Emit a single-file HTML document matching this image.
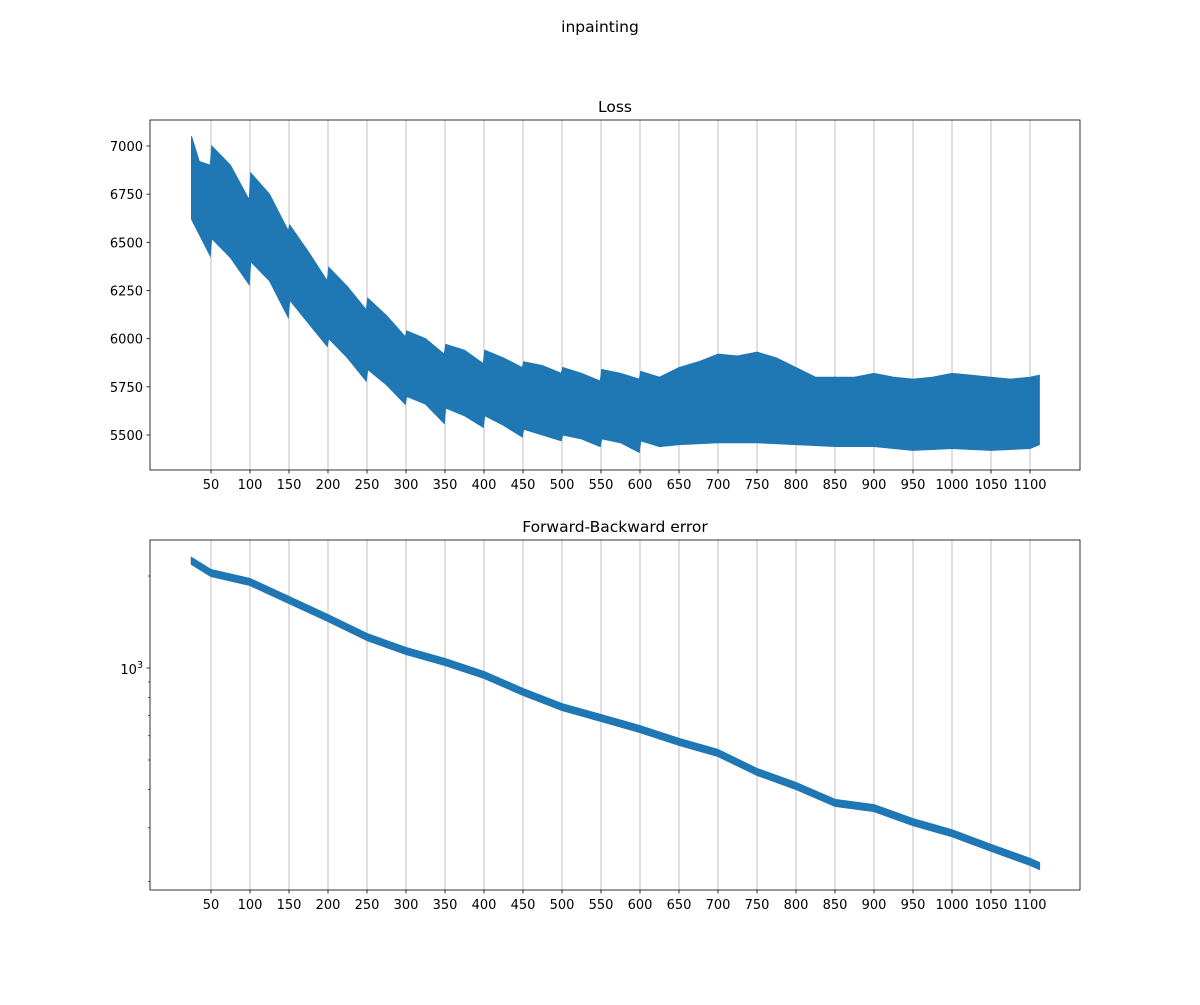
<!DOCTYPE html>
<html><head><meta charset="utf-8"><style>
body{margin:0;background:#fff;font-family:"Liberation Sans","DejaVu Sans",sans-serif}
svg text{font-family:"DejaVu Sans","Liberation Sans",sans-serif}
</style></head><body>
<svg id="fig" width="1200" height="1000" xmlns="http://www.w3.org/2000/svg">
<rect width="1200" height="1000" fill="#fff"/>
<text x="600" y="32" text-anchor="middle" font-size="15.5">inpainting</text>
</svg>
<script>
const xTicks=[50,100,150,200,250,300,350,400,450,500,550,600,650,700,750,800,850,900,950,1000,1050,1100];
const lossX=[25,35,49,51,75,99,101,125,149,151,175,199,201,225,249,251,275,299,301,325,349,351,375,399,401,425,449,451,475,499,501,525,549,551,575,599,601,625,650,675,700,725,750,775,800,825,850,875,900,925,950,975,1000,1025,1050,1075,1100,1112];
const lossUpper=[7050,6920,6900,7000,6900,6720,6860,6750,6560,6590,6450,6300,6370,6270,6150,6210,6120,6010,6040,6000,5920,5970,5940,5870,5940,5900,5850,5880,5860,5820,5850,5820,5780,5840,5820,5790,5830,5800,5850,5880,5920,5910,5930,5900,5850,5800,5800,5800,5820,5800,5790,5800,5820,5810,5800,5790,5800,5810];
const lossLowerX=[25,49,51,75,99,101,125,149,151,175,199,201,225,249,251,275,299,301,325,349,351,375,399,401,425,449,451,475,499,501,525,549,551,575,599,601,625,650,700,750,800,850,900,950,1000,1050,1100,1112];
const lossLower=[6620,6430,6520,6420,6280,6400,6300,6110,6200,6080,5960,6000,5900,5780,5840,5760,5660,5700,5660,5560,5640,5600,5540,5600,5550,5490,5530,5500,5470,5500,5480,5440,5480,5460,5410,5470,5440,5450,5460,5460,5450,5440,5440,5420,5430,5420,5430,5450];
const lossTicks=[5500,5750,6000,6250,6500,6750,7000];
const fbX=[25,50,100,150,200,250,300,350,400,450,500,550,600,650,700,750,800,850,900,950,1000,1050,1100,1112];
const fbCenter=[2240,2046,1911,1669,1457,1263,1137,1046,949,835,745,686,631,573,527,457,411,362,348,313,288,258,232,225];
const fbSpread=1.025;
const minorTicks=[200,300,400,500,600,700,800,900,2000];

const NS='http://www.w3.org/2000/svg';
const svg=document.getElementById('fig');
function el(t,a,p){const e=document.createElementNS(NS,t);for(const k in a)e.setAttribute(k,a[k]);(p||svg).appendChild(e);return e;}
const X0=150,X1=1080;
const xs=v=>211+(v-50)*(1030-211)/1050;

function axesFrame(top,bot,name,title){
  const g=el('g',{});
  
  
  xTicks.forEach(t=>{
    const l=el('line',{x1:xs(t),x2:xs(t),y1:top,y2:bot,stroke:'#b0b0b0','stroke-width':0.8},g);
    
    
    el('line',{x1:xs(t),x2:xs(t),y1:bot,y2:bot+3.5,stroke:'#000','stroke-width':0.8},g);
    const tx=el('text',{x:xs(t),y:bot+19,'text-anchor':'middle','font-size':13},g);
    tx.textContent=t;
    
    
  });
  const tt=el('text',{x:(X0+X1)/2,y:top-8,'text-anchor':'middle','font-size':15.5},g);
  tt.textContent=title;
  
  
  return g;
}
const T0=120,T1=470;
const ly=v=>146+(7000-v)*(435-146)/1500;
const g1=axesFrame(T0,T1,'loss-axes','Loss');
let pts=lossX.map((x,i)=>xs(x)+','+ly(lossUpper[i]));
for(let i=lossLowerX.length-1;i>=0;i--)pts.push(xs(lossLowerX[i])+','+ly(lossLower[i]));
const p1=el('polygon',{points:pts.join(' '),fill:'#1f77b4',stroke:'#1f77b4','stroke-width':1},g1);


lossTicks.forEach(t=>{
  el('line',{x1:X0-3.5,x2:X0,y1:ly(t),y2:ly(t),stroke:'#000','stroke-width':0.8},g1);
  const tx=el('text',{x:X0-7,y:ly(t)+5,'text-anchor':'end','font-size':13},g1);
  tx.textContent=t;
  
  
});
el('rect',{x:X0,y:T0,width:X1-X0,height:T1-T0,fill:'none',stroke:'#000','stroke-width':0.8},g1);

const B0=540,B1=890;
const fy=v=>668-Math.log10(v/1000)*305.6;
const g2=axesFrame(B0,B1,'fb-error-axes','Forward-Backward error');
let p2=fbX.map((x,i)=>xs(x)+','+fy(fbCenter[i]*fbSpread));
for(let i=fbX.length-1;i>=0;i--)p2.push(xs(fbX[i])+','+fy(fbCenter[i]/fbSpread));
const pp=el('polygon',{points:p2.join(' '),fill:'#1f77b4',stroke:'#1f77b4','stroke-width':1.5},g2);


minorTicks.forEach(t=>el('line',{x1:X0-2,x2:X0,y1:fy(t),y2:fy(t),stroke:'#000','stroke-width':0.6},g2));
el('line',{x1:X0-3.5,x2:X0,y1:fy(1000),y2:fy(1000),stroke:'#000','stroke-width':0.8},g2);
const lt=el('text',{x:X0-7,y:fy(1000)+6,'text-anchor':'end','font-size':13},g2);
lt.innerHTML='10<tspan dy="-6" font-size="9.5">3</tspan>';


el('rect',{x:X0,y:B0,width:X1-X0,height:B1-B0,fill:'none',stroke:'#000','stroke-width':0.8},g2);
</script>
</body></html>
